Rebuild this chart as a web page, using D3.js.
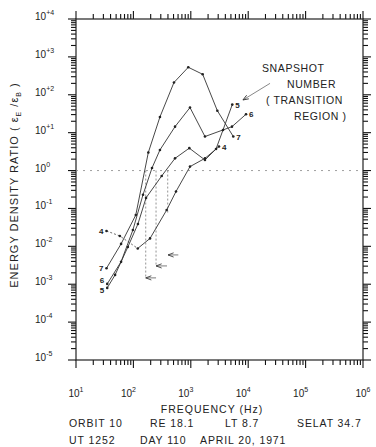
<!DOCTYPE html>
<html>
<head>
<meta charset="utf-8">
<script src="https://cdn.jsdelivr.net/npm/d3@7"></script>
<style>
body { margin: 0; background: #fff; }
svg text { font-family: "Liberation Sans", Arial, sans-serif; fill: #222; }
</style>
</head>
<body>
<svg id="chart" width="376" height="447"></svg>
<script>
// snapshot numbers (transition region)
const snapshots = ["4", "5", "6", "7"];

// frequency (Hz) of each measured point, per snapshot
const freq4 = [34, 58, 119, 195, 380, 552, 968, 1766, 3100];
const freq5 = [35, 48, 80, 120, 166, 311, 531, 942, 1766, 2750, 5280];
const freq6 = [35, 61, 98, 147, 211, 290, 531, 968, 1766, 3640, 5220, 9160];
const freq7 = [34, 61, 110, 182, 290, 509, 904, 1611, 2900, 5500];

// energy density ratio E_E / E_B, per snapshot
const ratio4 = [0.0255, 0.0188, 0.0088, 0.0162, 0.091, 0.28, 1.27, 2.1, 4.3];
const ratio5 = [0.0008, 0.00176, 0.0096, 0.039, 0.19, 0.72, 2.1, 3.9, 1.9, 3.7, 55];
const ratio6 = [0.00102, 0.0039, 0.027, 0.23, 1.17, 3.5, 14.4, 46, 7.9, 11.8, 14.4, 30.6];
const ratio7 = [0.00264, 0.0116, 0.067, 3.0, 26, 211, 532, 347, 38, 7.9];

// tick labels
const xExponents = ["1", "2", "3", "4", "5", "6"];
const yExponents = ["+4", "+3", "+2", "+1", "0", "-1", "-2", "-3", "-4", "-5"];

// dashed markers of the transition frequency: freq and bottom ratio (top is 10^0)
const markFreq = [164, 248, 396];
const markBottom = [0.00147, 0.00304, 0.0716];
// little arrows pointing at them: head freq, tail freq, ratio
const arrowHead = [164, 248, 401];
const arrowTail = [248, 385, 606];
const arrowRatio = [0.00147, 0.00304, 0.00593];

const svg = d3.select("#chart");

const x = d3.scaleLog().domain([10, 1e6]).range([76, 363]);
const y = d3.scaleLog().domain([1e-5, 1e4]).range([360, 19]);

// tick values: every 1..9 x 10^n inside the domain
let xTicks = [], yTicks = [];
for (let d = 1; d < 6; d++) for (let k = 1; k < 10; k++) xTicks.push(k * Math.pow(10, d));
xTicks.push(1e6);
for (let d = -5; d < 4; d++) for (let k = 1; k < 10; k++) yTicks.push(k * Math.pow(10, d));
yTicks.push(1e4);

function tickLen(v) {
    const l = Math.log10(v);
    return Math.abs(l - Math.round(l)) < 1e-9 ? 8 : 5;
}

// bottom and top
[[360, 1], [19, -1]].forEach(function (side) {
    svg.append("g").selectAll("line").data(xTicks).join("line")
        .attr("x1", d => x(d)).attr("x2", d => x(d))
        .attr("y1", side[0])
        .attr("y2", d => side[0] + side[1] * tickLen(d))
        .style("stroke", "#111").style("stroke-width", "1.1px");
});
// left and right
[[76, -1], [363, 1]].forEach(function (side) {
    svg.append("g").selectAll("line").data(yTicks).join("line")
        .attr("y1", d => y(d)).attr("y2", d => y(d))
        .attr("x1", side[0])
        .attr("x2", d => side[0] + side[1] * tickLen(d))
        .style("stroke", "#111").style("stroke-width", "1.1px");
});

// frame
svg.append("rect")
    .attr("x", x.range()[0]).attr("y", y.range()[1])
    .attr("width", x.range()[1] - x.range()[0])
    .attr("height", y.range()[0] - y.range()[1])
    .attr("fill", "none").attr("stroke", "#222").attr("stroke-width", 1.2);

// x tick labels
xExponents.forEach(function (e, i) {
    let cx = x(Math.pow(10, +e));
    if (i > 0 && i < xExponents.length - 1) cx -= 5;
    const t = svg.append("text")
        .attr("x", cx).attr("y", 397)
        .attr("text-anchor", "middle")
        .attr("font-size", 10);
    t.append("tspan").text("10");
    t.append("tspan").attr("dy", -5).attr("font-size", 7).text(e);
});

// y tick labels
yExponents.forEach(function (e) {
    const t = svg.append("text")
        .attr("x", 35).attr("y", y(Math.pow(10, +e)) + 1)
        .attr("font-size", 10);
    t.append("tspan").text("10");
    t.append("tspan").attr("dy", -5).attr("font-size", 7).text(e);
});

// 10^0 reference line
svg.append("line")
    .attr("x1", x(10)).attr("x2", x(1e6))
    .attr("y1", y(1)).attr("y2", y(1))
    .attr("stroke", "#888").attr("stroke-width", 0.8)
    .attr("stroke-dasharray", "2,5");

// transition markers
markFreq.forEach(function (f, i) {
    svg.append("line")
        .attr("x1", x(f)).attr("x2", x(f))
        .attr("y1", y(1)).attr("y2", y(markBottom[i]))
        .attr("stroke", "#666").attr("stroke-width", 0.7)
        .attr("stroke-dasharray", "2,2");
});

svg.append("defs").append("marker")
    .attr("id", "head")
    .attr("viewBox", "0 0 10 10")
    .attr("refX", 1).attr("refY", 5)
    .attr("markerUnits", "userSpaceOnUse")
    .attr("markerWidth", 7).attr("markerHeight", 7)
    .attr("orient", "auto")
    .append("path")
    .attr("d", "M9,2 L1,5 L9,8")
    .attr("fill", "none").attr("stroke", "#333").attr("stroke-width", 1.2);

arrowHead.forEach(function (f, i) {
    svg.append("line")
        .attr("x1", x(f)).attr("x2", x(arrowTail[i]))
        .attr("y1", y(arrowRatio[i])).attr("y2", y(arrowRatio[i]))
        .attr("stroke", "#444").attr("stroke-width", 0.7)
        .attr("marker-start", "url(#head)");
});

// the curves
const freqs = [freq4, freq5, freq6, freq7];
const ratios = [ratio4, ratio5, ratio6, ratio7];

const line = d3.line()
    .x(d => x(d[0]))
    .y(d => y(d[1]));

snapshots.forEach(function (s, i) {
    const pts = freqs[i].map((f, j) => [f, ratios[i][j]]);
    if (s === "4") {
        // first stretch of snapshot 4 is drawn dashed
        svg.append("path").datum(pts.slice(0, 3))
            .attr("d", line).attr("fill", "none")
            .attr("stroke", "#444").attr("stroke-width", 0.8)
            .attr("stroke-dasharray", "2,2");
        svg.append("path").datum(pts.slice(2))
            .attr("d", line).attr("fill", "none")
            .attr("stroke", "#333").attr("stroke-width", 0.9);
    } else {
        svg.append("path").datum(pts)
            .attr("d", line).attr("fill", "none")
            .attr("stroke", "#333").attr("stroke-width", 0.9);
    }
    svg.selectAll(null).data(pts).enter().append("circle")
        .attr("cx", d => x(d[0])).attr("cy", d => y(d[1]))
        .attr("r", 1.3).attr("fill", "#222");

    const first = pts[0], last = pts[pts.length - 1];
    let dyFirst = 3;
    if (s === "6") dyFirst = -1;
    if (s === "5") dyFirst = 5;
    svg.append("text")
        .attr("x", x(first[0]) - 3).attr("y", y(first[1]) + dyFirst)
        .attr("text-anchor", "end")
        .attr("font-size", 8).attr("font-weight", "bold")
        .text(s);
    svg.append("text")
        .attr("x", x(last[0]) + 3).attr("y", y(last[1]) + 3)
        .attr("font-size", 8).attr("font-weight", "bold")
        .text(s);
});

// snapshot note and pointer
svg.append("line")
    .attr("x1", x(8100)).attr("y1", y(73))
    .attr("x2", x(24000)).attr("y2", y(200))
    .attr("stroke", "#555").attr("stroke-width", 0.7)
    .attr("marker-start", "url(#head)");

const note = [["SNAPSHOT", 262, 72], ["NUMBER", 287, 88], ["( TRANSITION", 266, 104], ["REGION )", 294, 120]];
note.forEach(function (n) {
    svg.append("text")
        .attr("x", n[1]).attr("y", n[2])
        .attr("font-size", 10.5).attr("letter-spacing", 0.6)
        .text(n[0]);
});

// axis titles
const yt = svg.append("text")
    .attr("transform", "translate(18,185) rotate(-90)")
    .attr("text-anchor", "middle")
    .attr("font-size", 11).attr("letter-spacing", 1);
yt.append("tspan").text("ENERGY DENSITY RATIO ( ε");
yt.append("tspan").attr("dy", 3).attr("font-size", 7).text("E");
yt.append("tspan").attr("dy", -3).text(" /ε");
yt.append("tspan").attr("dy", 3).attr("font-size", 7).text("B");
yt.append("tspan").attr("dy", -3).text(" )");

svg.append("text")
    .attr("x", 212).attr("y", 413)
    .attr("text-anchor", "middle")
    .attr("font-size", 10.5).attr("letter-spacing", 1)
    .text("FREQUENCY  (Hz)");

const info1 = [["ORBIT 10", 69], ["RE 18.1", 150], ["LT 8.7", 225], ["SELAT 34.7", 297]];
const info2 = [["UT 1252", 69], ["DAY 110", 140], ["APRIL 20, 1971", 200]];
info1.forEach(function (t) {
    svg.append("text").attr("x", t[1]).attr("y", 427)
        .attr("font-size", 10.5).attr("letter-spacing", 0.9).text(t[0]);
});
info2.forEach(function (t) {
    svg.append("text").attr("x", t[1]).attr("y", 444)
        .attr("font-size", 10.5).attr("letter-spacing", 0.9).text(t[0]);
});
</script>
</body>
</html>
